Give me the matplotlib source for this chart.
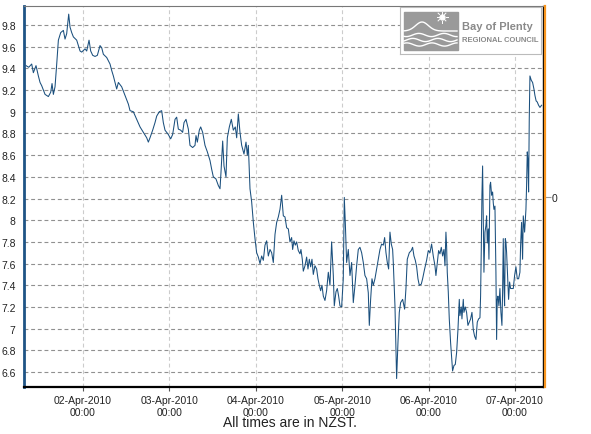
import numpy as np
import pandas as pd
import matplotlib
matplotlib.use("Agg")
import matplotlib.pyplot as plt
import matplotlib.dates as mdates
from matplotlib.patches import Rectangle

plt.rcParams['font.family'] = ['Liberation Sans', 'DejaVu Sans']

# hours after 01-Apr-2010 00:00 (NZST)
hours = [
    8.17, 8.91, 9.74, 10.2, 10.94, 11.59, 12.06, 12.52, 13.45, 14.37, 15.02, 15.39,
    15.76, 16.22, 16.69, 17.15, 17.8, 18.54, 19.0, 19.46, 20.02, 20.39, 20.85, 21.32,
    22.24, 23.17, 23.63, 24.56, 25.02, 25.67, 26.13, 26.69, 27.34, 27.98, 28.72, 29.19,
    29.65, 30.58, 31.5, 31.97, 32.43, 32.89, 33.35, 33.82, 34.74, 35.67, 36.6, 37.06,
    37.98, 38.91, 39.84, 40.76, 41.69, 42.15, 42.61, 43.35, 44.0, 44.47, 45.2,
    45.85, 46.31, 46.78, 47.7, 48.35, 48.9, 49.56, 50.02, 50.48, 51.13, 51.68, 52.06,
    52.61, 53.26, 53.72, 54.46, 55.11, 55.39, 55.76, 56.31, 56.69, 57.24, 57.89, 58.54,
    59.28, 59.74, 60.2, 60.94, 61.59, 62.06, 62.33, 62.8, 63.17, 63.72, 64.09, 64.65,
    65.2, 65.76, 66.31, 66.69, 67.15, 67.61, 68.08, 68.72, 69.28, 69.65, 69.93, 70.39,
    70.85, 71.32, 71.78, 72.24, 72.71, 73.17, 73.63, 74.09, 74.56, 75.02, 75.48, 75.95,
    76.41, 76.87, 77.34, 77.8, 78.26, 78.72, 79.19, 79.65, 80.11, 80.58, 81.04,
    81.5, 81.96, 82.24, 82.61, 82.98, 83.35, 83.81, 84.28, 84.55, 84.92, 85.2, 85.67,
    86.13, 86.5, 86.87, 87.24, 87.61, 87.98, 88.44, 88.91, 89.28, 89.65, 90.02, 90.39,
    90.76, 91.22, 91.68, 92.15, 92.61, 93.07, 93.54, 93.81, 94.28, 94.65, 95.02, 95.39,
    95.85, 96.31, 96.59, 96.87, 97.24, 97.7, 98.17, 98.63, 99.09, 99.56, 100.02, 100.48,
    100.94, 101.41, 101.87, 102.33, 102.8, 103.26, 103.54, 103.91, 104.28, 104.65, 105.11,
    105.57, 106.04, 106.5, 106.96, 107.43, 107.8, 108.17, 108.54, 108.91, 109.28, 109.65,
    110.02, 110.2, 110.67, 110.94, 111.13, 111.5, 111.87, 112.24, 112.8, 113.35, 113.72,
    114.09, 114.65, 115.2, 115.57, 115.95, 116.32, 116.69, 117.06, 117.43, 117.98, 118.35,
    118.91, 119.46, 119.93, 120.39,
    120.85, 121.31, 121.78, 122.05, 122.43, 122.8, 123.17, 123.54, 123.91, 124.28, 124.56,
    124.83, 125.02, 125.2, 125.48, 125.76, 126.13, 126.5, 126.68, 127.06, 127.43, 127.8,
    128.17, 128.54, 128.72, 129.09, 129.28, 129.65, 129.83, 130.2, 130.57, 130.94, 131.31,
    131.69, 132.06, 132.43, 132.8, 133.17, 133.54, 133.91, 134.28, 134.46, 134.65, 134.83,
    135.02, 135.2, 135.39, 135.67, 135.94, 136.13, 136.32, 136.59, 136.78, 137.06, 137.24,
    137.52, 137.8, 137.98, 138.17, 138.45, 138.72, 138.91, 139.09, 139.28, 139.56, 139.83,
    140.11, 140.39, 140.57, 140.76, 140.95, 141.13, 141.32, 141.5, 141.69, 141.96, 142.24,
    142.52, 142.8, 143.17, 143.54, 143.91, 144.28, 144.65, 145.02, 145.39, 145.57, 145.85,
    146.13, 146.32, 146.69, 147.06, 147.24, 147.43, 147.61, 147.8, 147.98, 148.17, 148.54,
    148.91, 149.28, 149.56, 149.89, 150.2, 150.57, 150.95, 151.41,
]

values = [
    9.425, 9.41, 9.44, 9.36, 9.425, 9.33, 9.27, 9.24, 9.16, 9.14, 9.18, 9.26,
    9.16, 9.23, 9.44, 9.66, 9.73, 9.75, 9.67, 9.72, 9.90, 9.78, 9.73, 9.69,
    9.66, 9.56, 9.55, 9.58, 9.56, 9.66, 9.56, 9.52, 9.51, 9.52, 9.61, 9.59,
    9.53, 9.50, 9.44, 9.38, 9.33, 9.27, 9.21, 9.27, 9.23, 9.15, 9.07, 9.01,
    9.00, 8.93, 8.86, 8.81, 8.76, 8.72, 8.76, 8.83, 8.90, 8.96, 9.00,
    9.01, 8.90, 8.83, 8.79, 8.75, 8.79, 8.93, 8.95, 8.84, 8.83, 8.81, 8.90,
    8.93, 8.84, 8.69, 8.67, 8.69, 8.78, 8.72, 8.83, 8.86, 8.81, 8.69, 8.63,
    8.55, 8.47, 8.40, 8.38, 8.32, 8.29, 8.44, 8.73, 8.50, 8.40, 8.76, 8.86,
    8.93, 8.83, 8.86, 8.76, 8.98, 8.81, 8.69, 8.61, 8.72, 8.60, 8.69, 8.29,
    8.17, 7.98, 7.83, 7.70, 7.66, 7.60, 7.67, 7.63, 7.77, 7.81, 7.67, 7.73,
    7.70, 7.61, 7.87, 7.98, 8.03, 8.10, 8.23, 8.04, 8.03, 7.93, 7.92,
    7.80, 7.84, 7.73, 7.81, 7.77, 7.80, 7.72, 7.69, 7.73, 7.64, 7.53, 7.58,
    7.66, 7.55, 7.64, 7.57, 7.64, 7.50, 7.58, 7.55, 7.46, 7.40, 7.35, 7.40,
    7.30, 7.26, 7.35, 7.52, 7.40, 7.80, 7.49, 7.21, 7.34, 7.37, 7.30, 7.21,
    7.20, 7.46, 8.21, 7.98, 7.61, 7.73, 7.49, 7.61, 7.24, 7.40, 7.58, 7.73,
    7.75, 7.70, 7.61, 7.49, 7.46, 7.33, 7.03, 7.27, 7.46, 7.40, 7.46,
    7.55, 7.64, 7.73, 7.78, 7.77, 7.84, 7.70, 7.61, 7.55, 7.89, 7.78,
    7.73, 7.61, 7.21, 6.84, 6.54, 6.87, 7.15, 7.24, 7.27, 7.18, 7.37,
    7.64, 7.70, 7.72, 7.75, 7.67, 7.63, 7.57, 7.46, 7.40, 7.41, 7.46,
    7.55, 7.63, 7.72, 7.70,
    7.78, 7.67, 7.58, 7.49, 7.61, 7.72, 7.69, 7.75, 7.67, 7.73, 7.58,
    7.89, 7.76, 7.52, 7.34, 7.09, 6.87, 6.69, 6.61, 6.66, 6.67, 6.78,
    6.99, 7.27, 7.12, 7.20, 7.09, 7.27, 7.15, 7.20, 7.15, 7.03, 7.06,
    7.09, 7.15, 6.99, 6.93, 6.90, 7.06, 7.09, 7.10, 7.30, 7.73, 8.23,
    8.50, 8.01, 7.52, 7.89, 7.95, 8.04, 7.79, 7.92, 7.64, 8.32, 8.35,
    8.23, 8.26, 8.16, 8.10, 8.13, 7.52, 6.90, 7.27, 7.30, 7.21, 7.37,
    7.15, 7.03, 7.33, 7.83, 7.40, 7.21, 7.83, 7.80, 7.70, 7.49, 7.27,
    7.43, 7.37, 7.37, 7.37, 7.49, 7.57, 7.46, 7.46, 7.52, 7.76, 7.98,
    7.64, 8.04, 7.89, 8.10, 8.32, 8.63, 8.56, 8.26, 8.93, 9.33, 9.29,
    9.27, 9.21, 9.15, 9.10, 9.09, 9.06, 9.04, 9.06,
]

y_ticks = [6.6, 6.8, 7.0, 7.2, 7.4, 7.6, 7.8, 8.0, 8.2, 8.4, 8.6, 8.8, 9.0, 9.2, 9.4, 9.6, 9.8]
x_tick_days = ['2010-04-02', '2010-04-03', '2010-04-04', '2010-04-05', '2010-04-06', '2010-04-07']

start = pd.Timestamp('2010-04-01')
times = start + pd.to_timedelta(hours, unit='h')

fig = plt.figure(figsize=(5.91, 4.35), dpi=100)
ax = fig.add_axes([24 / 591, 47 / 435, 519 / 591, 381 / 435])

ax.plot(times, values, color='#1a4f7d', lw=0.75)

ax.set_xlim(start + pd.Timedelta(hours=7.6), start + pd.Timedelta(hours=151.8))
ax.set_ylim(6.462, 9.975)

ax.set_yticks(y_ticks)
ax.set_yticklabels(['%g' % v for v in y_ticks])
ax.set_xticks(pd.to_datetime(x_tick_days))
ax.xaxis.set_major_formatter(mdates.DateFormatter('%d-%b-%Y\n%H:%M'))

ax.tick_params(axis='y', length=0, pad=6, labelsize=7.5, labelcolor='#222222')
ax.tick_params(axis='x', length=3, width=0.8, color='#555555', pad=3,
               labelsize=7.5, labelcolor='#222222')

ax.grid(axis='y', color='#909090', ls=(0, (3.5, 2.5)), lw=0.8)
ax.grid(axis='x', color='#cccccc', ls=(0, (3.5, 2.5)), lw=0.8)

ax.spines['left'].set_color('#1f5485')
ax.spines['left'].set_linewidth(2.0)
ax.spines['bottom'].set_color('black')
ax.spines['bottom'].set_linewidth(1.6)
ax.spines['right'].set_color('black')
ax.spines['right'].set_linewidth(1.0)
ax.spines['top'].set_color('#777777')
ax.spines['top'].set_linewidth(0.8)

# secondary axis with the orange rule and the single "0" label
ax2 = ax.twinx()
ax2.set_ylim(-1, 1)
ax2.set_yticks([0])
ax2.set_yticklabels(['0'])
for s in ['left', 'top', 'bottom']:
    ax2.spines[s].set_visible(False)
ax2.spines['right'].set_position(('outward', 1.3))
ax2.spines['right'].set_color('#f7941d')
ax2.spines['right'].set_linewidth(1.6)
ax2.tick_params(axis='y', length=4, width=0.8, color='#999999', pad=1,
                labelsize=7.5, labelcolor='#222222')

fig.text(290 / 591, 1 - 423 / 435, 'All times are in NZST.', ha='center', va='center',
         fontsize=10, color='#222222')

# logo box
lg = fig.add_axes([400 / 591, 1 - 55 / 435, 141 / 591, 47 / 435])
lg.set_xlim(0, 141)
lg.set_ylim(47, 0)
lg.set_facecolor('white')
for s in lg.spines.values():
    s.set_color('#bbbbbb')
    s.set_linewidth(0.8)
lg.set_xticks([])
lg.set_yticks([])
lg.add_patch(Rectangle((3.5, 4.5), 54, 38, color='#9a9a9a'))
wx = np.linspace(4, 57, 60)
lg.plot(wx, 24 - 9 * np.exp(-((wx - 22) / 9) ** 2), color='white', lw=1.0)
lg.plot(wx, 28 + 1.6 * np.sin(wx / 4.0), color='white', lw=1.0)
lg.plot(wx, 33 + 1.6 * np.sin(wx / 4.0 + 1.5), color='white', lw=1.0)
lg.plot(wx, 37.5 + 1.6 * np.sin(wx / 4.0 + 3.0), color='white', lw=1.0)
lg.plot([42], [10], marker='o', ms=3.5, color='white')
for a in np.linspace(0, 2 * np.pi, 9)[:-1]:
    lg.plot([42 + 3.5 * np.cos(a), 42 + 5.5 * np.cos(a)],
            [10 + 3.5 * np.sin(a), 10 + 5.5 * np.sin(a)], color='white', lw=0.7)
lg.text(62, 19, 'Bay of Plenty', fontsize=8, color='#8a8a8a', va='center', ha='left',
        fontweight='bold')
lg.text(62, 32, 'REGIONAL COUNCIL', fontsize=5.5, color='#8a8a8a', va='center', ha='left',
        fontweight='bold')

fig.savefig('out.png', dpi=100)
